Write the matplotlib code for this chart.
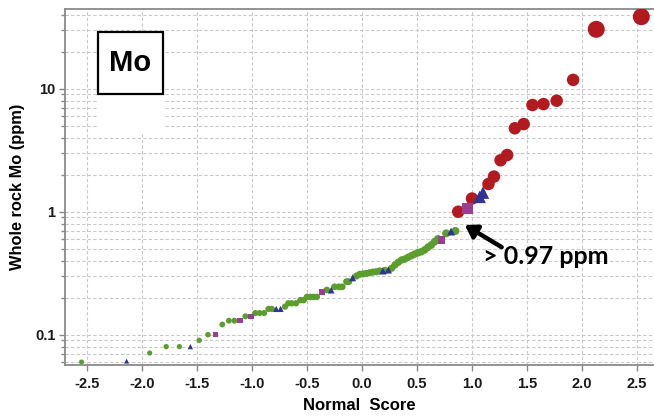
import numpy as np
import matplotlib
matplotlib.use("Agg")
import matplotlib.pyplot as plt
from matplotlib.ticker import LogLocator, FixedLocator, FixedFormatter, NullFormatter
from matplotlib.patches import Rectangle

plt.rcParams['font.family'] = ['Liberation Sans', 'DejaVu Sans']

# normal score vs whole rock Mo (ppm), by sample group
green_x = [-2.55, -1.93, -1.78, -1.66, -1.48, -1.40, -1.27, -1.21, -1.16, -1.06,
           -0.97, -0.93, -0.89, -0.85, -0.82, -0.70, -0.67, -0.64, -0.60, -0.56,
           -0.53, -0.50, -0.47, -0.44, -0.41, -0.32, -0.25, -0.21, -0.18, -0.14,
           -0.12, -0.05, -0.02, 0.01, 0.04, 0.07, 0.10, 0.13, 0.16, 0.21,
           0.27, 0.30, 0.33, 0.36, 0.39, 0.42, 0.45, 0.48, 0.51, 0.54,
           0.57, 0.60, 0.63, 0.66, 0.69, 0.765, 0.85]
green_y = [0.060, 0.071, 0.080, 0.080, 0.090, 0.100, 0.121, 0.130, 0.130, 0.141,
           0.150, 0.150, 0.150, 0.162, 0.162, 0.169, 0.180, 0.180, 0.180, 0.191,
           0.191, 0.203, 0.203, 0.203, 0.203, 0.231, 0.245, 0.245, 0.245, 0.270,
           0.270, 0.300, 0.310, 0.312, 0.315, 0.319, 0.323, 0.325, 0.330, 0.333,
           0.347, 0.369, 0.388, 0.405, 0.412, 0.426, 0.439, 0.453, 0.464, 0.473,
           0.489, 0.514, 0.536, 0.570, 0.600, 0.667, 0.697]

tri_x = [-2.14, -1.56, -0.78, -0.74, -0.28, -0.085, 0.19, 0.24, 0.81, 1.07, 1.10]
tri_y = [0.061, 0.080, 0.162, 0.162, 0.230, 0.290, 0.330, 0.336, 0.690, 1.32, 1.43]

sq_x = [-1.33, -1.11, -1.01, -0.36, 0.72, 0.96]
sq_y = [0.100, 0.130, 0.141, 0.221, 0.589, 1.06]

red_x = [0.875, 1.00, 1.15, 1.20, 1.26, 1.32, 1.39, 1.47, 1.55, 1.65, 1.77, 1.92, 2.13, 2.54]
red_y = [1.00, 1.28, 1.68, 1.93, 2.62, 2.89, 4.77, 5.16, 7.37, 7.50, 7.99, 11.8, 30.4, 38.5]

threshold = 0.97
x_ticks = [-2.5, -2.0, -1.5, -1.0, -0.5, 0.0, 0.5, 1.0, 1.5, 2.0, 2.5]
y_ticks = [0.1, 1, 10]
y_tick_labels = ['0.1', '1', '10']


def marker_area(y):
    # symbol diameter in pixels grows with concentration
    y = np.asarray(y, dtype=float)
    d = np.interp(np.log10(y), [-1.2, -0.2], [5.0, 8.0])
    d = np.where(y >= threshold, 12.5, d)
    d = np.where(y >= 20, 17.0, d)
    return (d * 0.72) ** 2


fig = plt.figure(figsize=(6.54, 4.18), dpi=100)
ax = fig.add_axes([0.0994, 0.1268, 0.9006, 0.8517])

ax.scatter(green_x, green_y, s=marker_area(green_y), c='#5c9e2e', marker='o',
           linewidths=0, zorder=3)
ax.scatter(red_x, red_y, s=marker_area(red_y), c='#b31a1f', marker='o',
           linewidths=0, zorder=4)
ax.scatter(sq_x, sq_y, s=marker_area(sq_y) * 0.8, c='#9c3d95', marker='s',
           linewidths=0, zorder=5)
ax.scatter(tri_x, tri_y, s=marker_area(tri_y), c='#2f3590', marker='^',
           linewidths=0, zorder=6)

ax.set_yscale('log')
ax.set_xlim(-2.70, 2.655)
ax.set_ylim(0.0567, 44.5)

ax.xaxis.set_major_locator(FixedLocator(x_ticks))
ax.set_xticklabels(['%.1f' % t for t in x_ticks])
ax.yaxis.set_major_locator(FixedLocator(y_ticks))
ax.yaxis.set_major_formatter(FixedFormatter(y_tick_labels))
ax.yaxis.set_minor_locator(LogLocator(base=10, subs=np.arange(2, 10)))
ax.yaxis.set_minor_formatter(NullFormatter())

for lbl in ax.get_xticklabels() + ax.get_yticklabels():
    lbl.set_fontweight('bold')
    lbl.set_fontsize(10.5)
    lbl.set_color('#1a1a1a')

ax.tick_params(which='both', direction='out', color='#888888', width=1)
ax.tick_params(which='major', length=4)
ax.tick_params(which='minor', length=3)
ax.tick_params(axis='x', which='major', pad=5)
ax.tick_params(axis='y', which='major', pad=3)

grid_style = dict(color='#c9c9c9', linestyle=(0, (3, 2)), linewidth=0.8)
ax.xaxis.grid(True, which='major', **grid_style)
ax.yaxis.grid(True, which='major', **grid_style)
ax.yaxis.grid(True, which='minor', **grid_style)
ax.set_axisbelow(True)

ax.spines['right'].set_visible(False)
for side in ['left', 'bottom', 'top']:
    ax.spines[side].set_color('#8a8a8a')
    ax.spines[side].set_linewidth(1.3)

ax.set_xlabel('Normal  Score', fontsize=12, fontweight='bold', labelpad=5)
ax.set_ylabel('Whole rock Mo (ppm)', fontsize=11.8, fontweight='bold', labelpad=7)

# element label box
ax.add_patch(Rectangle((0.056, 0.653), 0.110, 0.108, transform=ax.transAxes,
                       facecolor='white', edgecolor='none', zorder=2))
ax.add_patch(Rectangle((0.056, 0.761), 0.110, 0.174, transform=ax.transAxes,
                       facecolor='white', edgecolor='black', linewidth=1.6, zorder=7))
ax.text(0.111, 0.848, 'Mo', transform=ax.transAxes, ha='center', va='center',
        fontsize=21, fontweight='bold', zorder=8)

# threshold annotation
ax.annotate('', xy=(0.935, 0.78), xytext=(1.27, 0.515),
            arrowprops=dict(arrowstyle='-|>,head_length=0.7,head_width=0.45',
                            color='black', lw=3.2, shrinkA=0, shrinkB=0),
            zorder=8)
ax.text(1.10, 0.43, '> %.2f ppm' % threshold, ha='left', va='center',
        fontsize=18, fontweight='bold', family=['Lato', 'DejaVu Sans'], zorder=8)

fig.savefig('out.png', dpi=100)
